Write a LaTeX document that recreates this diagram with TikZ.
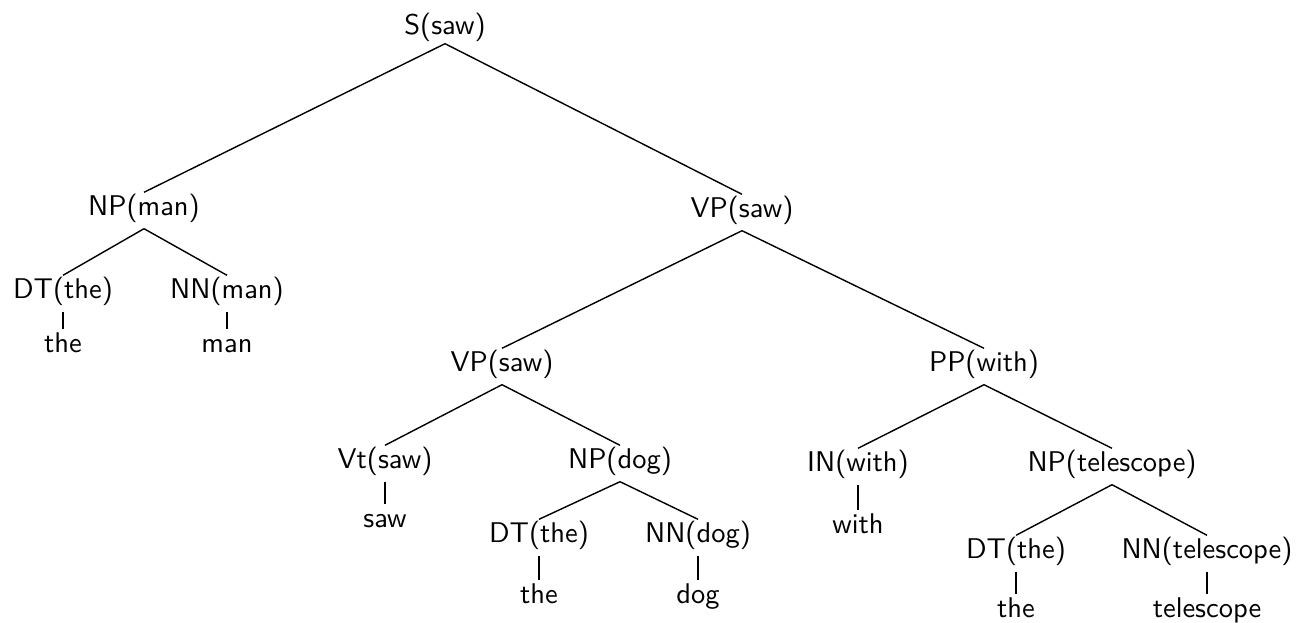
\documentclass[tikz,border=0pt]{standalone}
\usepackage{fontspec}
\newfontfamily\treefont{lmsans10-regular.otf}
\usepackage{tikz}
\begin{document}
\begin{tikzpicture}[x=1pt,y=-1pt,line width=1.4pt,
every node/.style={anchor=base,font=\treefont\fontsize{28.5}{34}\selectfont,inner xsep=0pt,inner ysep=0pt,text height=22pt,text depth=13pt}]
\useasboundingbox(0,0)rectangle(1297,623);
\node(s)at(445,35)[text depth=8pt]{S(saw)};
\node(np1)at(144,215){NP(man)};
\node(vp1)at(742,217){VP(saw)};
\node(dt1)at(63,298){DT(the)};
\node(nn1)at(227,298){NN(man)};
\node(the1)at(63,352){the};
\node(man)at(227,352){man};
\node(vp2)at(502,371){VP(saw)};
\node(pp)at(984,371){PP(with)};
\node(vt)at(385,468){Vt(saw)};
\node(np2)at(620,468){NP(dog)};
\node(in)at(858,471){IN(with)};
\node(np3)at(1112,471){NP(telescope)};
\node(saw)at(385,527){saw};
\node(with)at(858,533){with};
\node(dt2)at(539,542){DT(the)};
\node(nn2)at(698,542){NN(dog)};
\node(dt3)at(1016,558){DT(the)};
\node(nn3)at(1207,558){NN(telescope)};
\node(the2)at(539,603){the};
\node(dog)at(698,603){dog};
\node(the3)at(1016,617){the};
\node(tel)at(1207,617){telescope};
\draw(s.south)--(np1.north) (s.south)--(vp1.north);
\draw(np1.south)--(dt1.north) (np1.south)--(nn1.north);
\draw(dt1.south)--(the1.north) (nn1.south)--(man.north);
\draw(vp1.south)--(vp2.north) (vp1.south)--(pp.north);
\draw(vp2.south)--(vt.north) (vp2.south)--(np2.north);
\draw(pp.south)--(in.north) (pp.south)--(np3.north);
\draw(vt.south)--(saw.north) (in.south)--(with.north);
\draw(np2.south)--(dt2.north) (np2.south)--(nn2.north);
\draw(np3.south)--(dt3.north) (np3.south)--(nn3.north);
\draw(dt2.south)--(the2.north) (nn2.south)--(dog.north);
\draw(dt3.south)--(the3.north) (nn3.south)--(tel.north);
\end{tikzpicture}
\end{document}
